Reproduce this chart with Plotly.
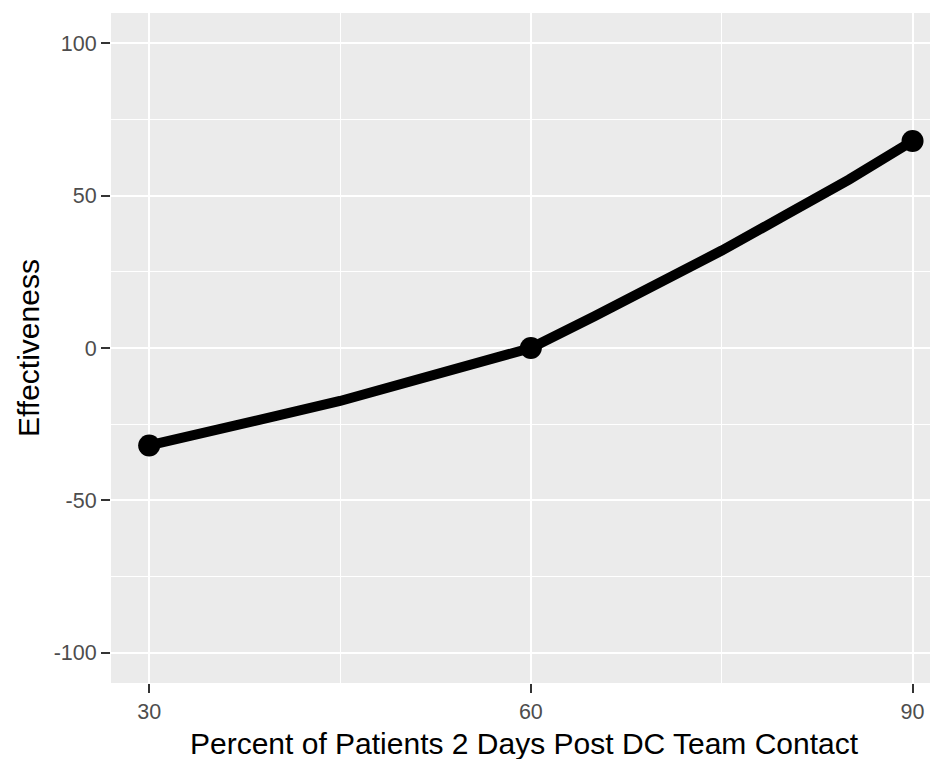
import plotly.graph_objects as go

# values
pct_patients = [30, 35, 40, 45, 50, 55, 60, 65, 70, 75, 80, 85, 90]
effectiveness = [-32, -26.8, -22.3, -17.4, -11.5, -5.9, 0, 10.4, 21, 32, 43.6, 55.3, 68]

marker_x = [30, 60, 90]
marker_y = [-32, 0, 68]

x_ticks = [30, 60, 90]
y_ticks = [-100, -50, 0, 50, 100]
y_tick_text = ['-100', '-50', '0', '50', '100']

fig = go.Figure()
fig.add_trace(go.Scatter(x=pct_patients, y=effectiveness, mode='lines',
                         line=dict(color='black', width=10), hoverinfo='skip'))
fig.add_trace(go.Scatter(x=marker_x, y=marker_y, mode='markers',
                         marker=dict(color='black', size=22)))

font = 'Liberation Sans, Arial, sans-serif'
axis_common = dict(showgrid=True, gridcolor='white', gridwidth=2, zeroline=False,
                   ticks='outside', ticklen=9, tickwidth=1.5, tickcolor='#333333',
                   tickfont=dict(family=font, size=21.5, color='#4D4D4D'),
                   showline=False, automargin=False)

# the page body has an 8px margin, so the figure is drawn 8px in from the corner
fig.update_layout(width=930, height=751,
                  margin=dict(l=103, r=0, t=5, b=76),
                  paper_bgcolor='white', plot_bgcolor='#EBEBEB',
                  showlegend=False,
                  font=dict(family=font))

fig.update_xaxes(range=[27, 92.0], tickvals=x_ticks,
                 minor=dict(tickvals=[45, 75], showgrid=True, gridcolor='white', gridwidth=1, ticks=''),
                 **axis_common)
fig.update_yaxes(range=[-110, 110], tickvals=y_ticks, ticktext=y_tick_text,
                 minor=dict(tickvals=[-75, -25, 25, 75], showgrid=True, gridcolor='white', gridwidth=1, ticks=''),
                 **axis_common)

# axis titles placed as annotations so they sit where ggplot put them
fig.add_annotation(text='Percent of Patients 2 Days Post DC Team Contact',
                   xref='paper', yref='paper', x=0.5, y=-0.0896, yanchor='middle',
                   showarrow=False, font=dict(family=font, size=30, color='black'))
fig.add_annotation(text='Effectiveness', textangle=-90,
                   xref='paper', yref='paper', x=-0.1004, y=0.5, xanchor='center',
                   showarrow=False, font=dict(family=font, size=30, color='black'))

fig.write_html('out.html')
